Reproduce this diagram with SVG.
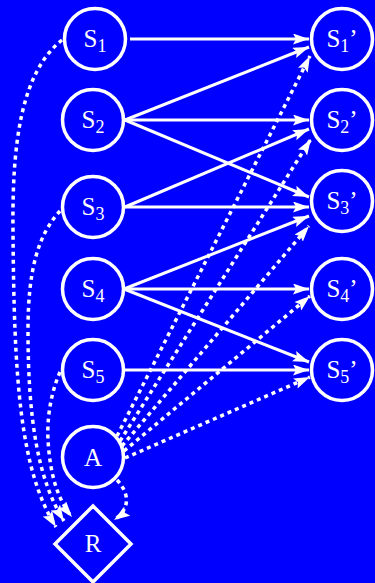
<svg xmlns="http://www.w3.org/2000/svg" width="375" height="583" viewBox="0 0 375 583">
<style>
.node circle, .node polygon { fill: none; stroke: #fff; stroke-width: 3.5; }
.node text { font-family: "Liberation Serif", "Times New Roman", serif; font-size: 25px; fill: #fff; text-anchor: middle; }
.sub { font-size: 18px; }
.e { fill: none; stroke: #fff; stroke-width: 3; marker-end: url(#ah); }
.d { fill: none; stroke: #fff; stroke-width: 3.5; stroke-dasharray: 4 4; marker-end: url(#ah); }
</style>
<defs>
<marker id="ah" markerUnits="userSpaceOnUse" markerWidth="18" markerHeight="12" refX="16" refY="5.5" orient="auto">
<path d="M0,0 L16,5.5 L0,11 L3,5.5 z" fill="#fff"/>
</marker>
</defs>
<rect width="375" height="583" fill="#0000ff"/>
<g id="connectors">
<path class="e" d="M130,39 L309,39"/>
<path class="e" d="M125,120 L309,47"/>
<path class="e" d="M125,120 L309,120"/>
<path class="e" d="M125,120 L309,197"/>
<path class="e" d="M125,207 L309,129"/>
<path class="e" d="M125,207 L309,207"/>
<path class="e" d="M124,289 L309,216"/>
<path class="e" d="M124,289 L309,289"/>
<path class="e" d="M124,289 L309,362"/>
<path class="e" d="M125,370 L309,370"/>
<path class="d" d="M117,436 L310,56"/>
<path class="d" d="M120,441 L311,139"/>
<path class="d" d="M122,446 L309,226"/>
<path class="d" d="M124,451 L310,296"/>
<path class="d" d="M125,458 L310,377"/>
<path class="d" d="M62,40 C22,72 12,140 13,230 C14,380 20,470 56,527"/>
<path class="d" d="M60,211 C38,235 28,270 28,330 C28,420 38,480 64,521"/>
<path class="d" d="M60,372 C50,395 47,420 48,440 C50,475 58,500 72,517"/>
<path class="d" d="M117,480 C131,495 129,510 114,520"/>
</g>
<g id="S1" class="node"><circle cx="95" cy="39" r="30.5"/><text x="95" y="47">S<tspan class="sub" dy="5">1</tspan></text></g>
<g id="S2" class="node"><circle cx="93" cy="120" r="30.5"/><text x="93" y="128">S<tspan class="sub" dy="5">2</tspan></text></g>
<g id="S3" class="node"><circle cx="93" cy="207" r="30.5"/><text x="93" y="215">S<tspan class="sub" dy="5">3</tspan></text></g>
<g id="S4" class="node"><circle cx="93" cy="289" r="30.5"/><text x="93" y="297">S<tspan class="sub" dy="5">4</tspan></text></g>
<g id="S5" class="node"><circle cx="93" cy="370" r="30.5"/><text x="93" y="378">S<tspan class="sub" dy="5">5</tspan></text></g>
<g id="A" class="node"><circle cx="93" cy="457" r="30.5"/><text x="93" y="466">A</text></g>
<g id="R" class="node"><polygon points="93,506 131,544 93,582 55,544"/><text x="93" y="552">R</text></g>
<g id="S1p" class="node"><circle cx="342" cy="39" r="30.5"/><text x="342" y="47">S<tspan class="sub" dy="5">1</tspan><tspan dy="-5">’</tspan></text></g>
<g id="S2p" class="node"><circle cx="342" cy="120" r="30.5"/><text x="342" y="128">S<tspan class="sub" dy="5">2</tspan><tspan dy="-5">’</tspan></text></g>
<g id="S3p" class="node"><circle cx="342" cy="201" r="30.5"/><text x="342" y="209">S<tspan class="sub" dy="5">3</tspan><tspan dy="-5">’</tspan></text></g>
<g id="S4p" class="node"><circle cx="342" cy="289" r="30.5"/><text x="342" y="297">S<tspan class="sub" dy="5">4</tspan><tspan dy="-5">’</tspan></text></g>
<g id="S5p" class="node"><circle cx="342" cy="370" r="30.5"/><text x="342" y="378">S<tspan class="sub" dy="5">5</tspan><tspan dy="-5">’</tspan></text></g>
</svg>
